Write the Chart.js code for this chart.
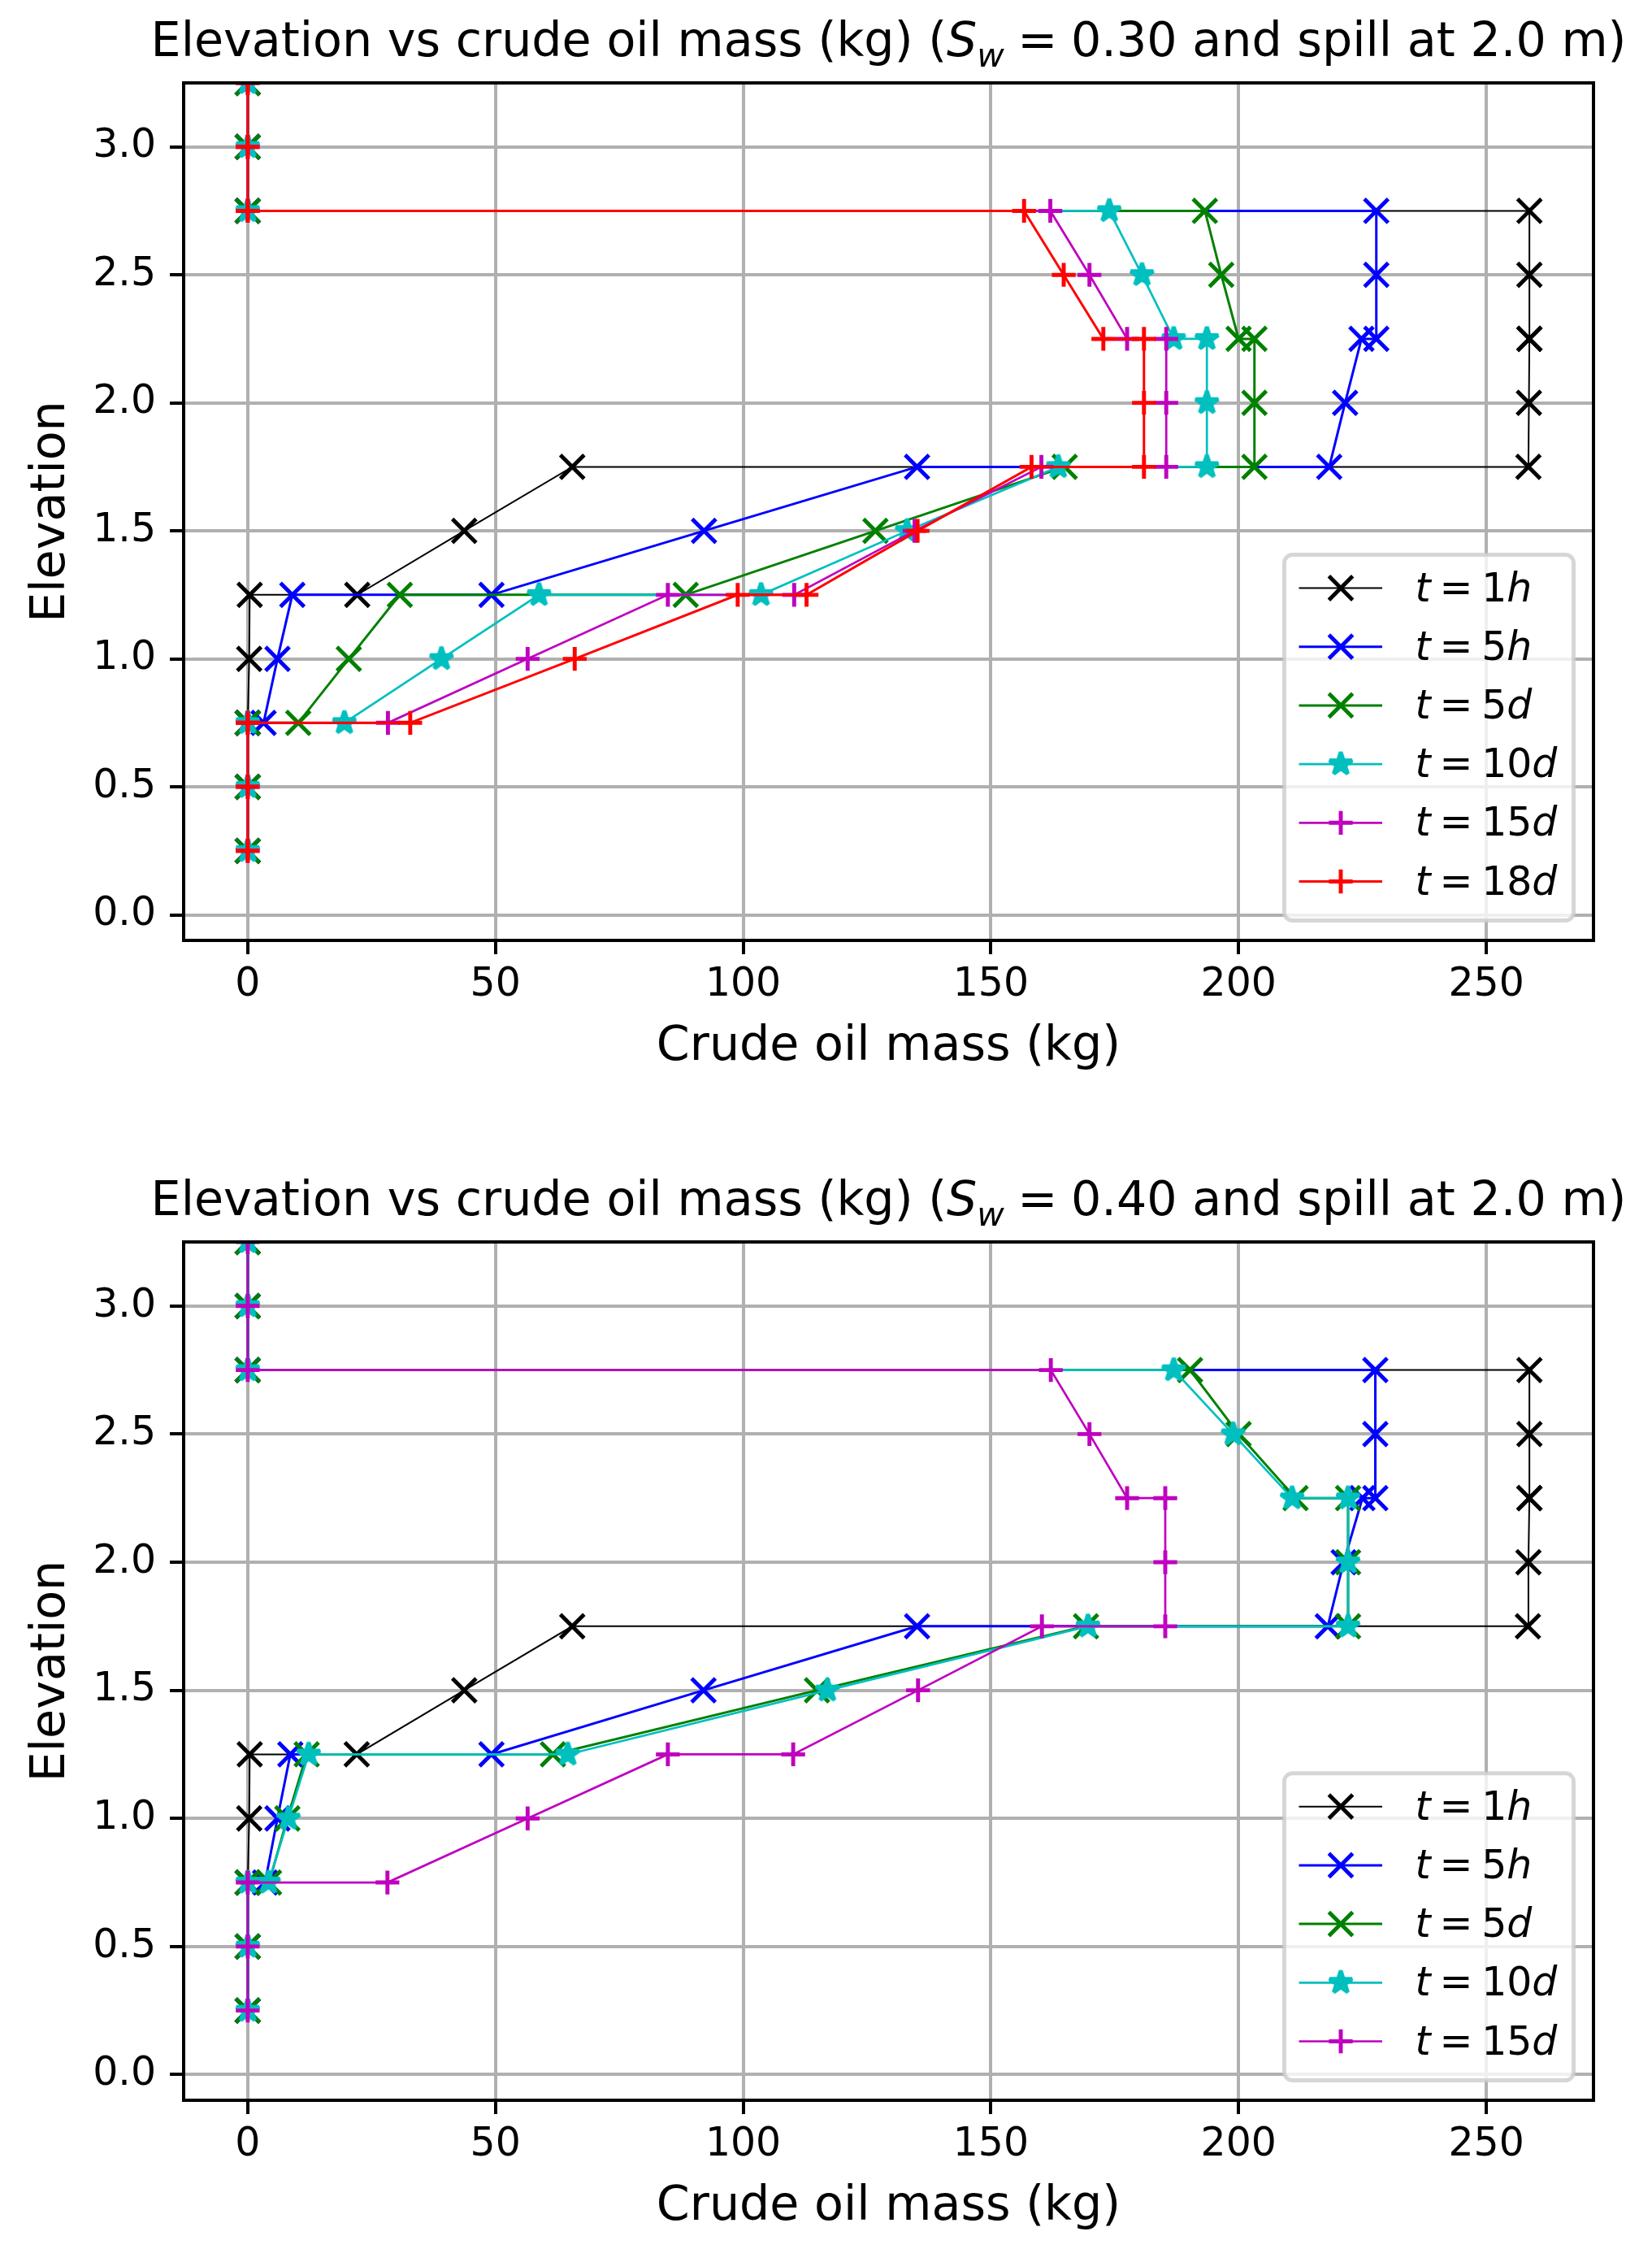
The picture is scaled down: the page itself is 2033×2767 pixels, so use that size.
<!DOCTYPE html>
<html>
<head>
<meta charset="utf-8">
<script src="https://cdn.jsdelivr.net/npm/chart.js@4.4.1/dist/chart.umd.min.js"></script>
<style>
  html, body { margin: 0; padding: 0; background: #fff; }
  .panel { position: absolute; left: 0; }
</style>
</head>
<body>
<div class="panel" style="top:0"><canvas id="sw30" width="2033" height="1383"></canvas></div>
<div class="panel" style="top:1383px"><canvas id="sw40" width="2033" height="1384"></canvas></div>
<script>
// elevation of each sample (m), layer boundaries appear twice
var elevation = [0.25, 0.5, 0.75, 0.75, 1.0, 1.25, 1.25, 1.5, 1.75, 1.75, 2.0, 2.25, 2.25, 2.5, 2.75, 2.75, 3.0, 3.25];

// crude oil mass (kg), Sw = 0.30
var sw30_1h  = [0, 0, 0, 0, 0.3, 0.4, 22.1, 43.7, 65.5, 258.5, 258.6, 258.7, 258.7, 258.7, 258.7, 0, 0, 0];
var sw30_5h  = [0, 0, 0, 3.2, 6.0, 9.0, 49.2, 92.1, 135.1, 218.3, 221.5, 224.8, 227.8, 227.8, 227.8, 0, 0, 0];
var sw30_5d  = [0, 0, 0, 10.2, 20.4, 30.7, 88.4, 126.7, 164.9, 203.2, 203.2, 203.2, 200.0, 196.5, 193.2, 0, 0, 0];
var sw30_10d = [0, 0, 0, 19.5, 39.1, 58.8, 103.6, 133.1, 163.6, 193.6, 193.6, 193.6, 186.9, 180.5, 173.9, 0, 0, 0];
var sw30_15d = [0, 0, 0, 28.3, 56.5, 84.8, 110.3, 134.6, 160.2, 185.4, 185.4, 185.4, 177.5, 169.9, 162.0, 0, 0, 0];
var sw30_18d = [0, 0, 0, 32.8, 66.0, 98.9, 112.8, 135.2, 158.2, 180.9, 180.9, 180.9, 172.7, 164.7, 156.7, 0, 0, 0];

// crude oil mass (kg), Sw = 0.40
var sw40_1h  = [0, 0, 0, 0, 0.3, 0.4, 22.0, 43.7, 65.5, 258.4, 258.5, 258.7, 258.7, 258.7, 258.7, 0, 0, 0];
var sw40_5h  = [0, 0, 0, 3.5, 6.0, 8.6, 49.2, 92.0, 135.1, 218.0, 221.2, 225.0, 227.6, 227.6, 227.6, 0, 0, 0];
var sw40_5d  = [0, 0, 0, 4.3, 8.0, 11.9, 61.6, 114.9, 169.2, 222.1, 222.1, 222.1, 211.5, 200.0, 190.2, 0, 0, 0];
var sw40_10d = [0, 0, 0, 4.2, 8.2, 12.3, 64.6, 117.0, 169.6, 222.1, 222.1, 222.1, 210.8, 198.9, 186.9, 0, 0, 0];
var sw40_15d = [0, 0, 0, 28.2, 56.5, 84.8, 110.1, 135.3, 160.3, 185.2, 185.2, 185.2, 177.5, 169.9, 162.1, 0, 0, 0];

var labels30 = ['1h', '5h', '5d', '10d', '15d', '18d'];
var labels40 = ['1h', '5h', '5d', '10d', '15d'];
var massTicks = 50;
var elevTicks = 0.5;
var elevMin = -0.1, elevMax = 3.25;

var styles = {
    '1h':  { color: '#000000', marker: 'x', width: 2 },
    '5h':  { color: '#0000ff', marker: 'x', width: 3 },
    '5d':  { color: '#008000', marker: 'x', width: 3 },
    '10d': { color: '#00bfbf', marker: '*', width: 2.7 },
    '15d': { color: '#bf00bf', marker: '+', width: 2.7 },
    '18d': { color: '#ff0000', marker: '+', width: 3 }
};
var FONT = '"DejaVu Sans"';
var MS = 29.3;   // marker size, px
var MEW = 4.9;   // marker edge width

// filled 5 point star like matplotlib '*'
function starPath(g, cx, cy) {
    var r = MS / 2, ri = r * 0.381966;
    g.beginPath();
    for (var k = 0; k < 10; k++) {
        var rr = k % 2 ? ri : r;
        var a = -Math.PI / 2 + k * Math.PI / 5;
        g.lineTo(cx + rr * Math.cos(a), cy + rr * Math.sin(a));
    }
    g.closePath();
}
var starCache = {};
function starImage(color) {
    if (starCache[color]) return starCache[color];
    var c = document.createElement('canvas');
    c.width = 40; c.height = 40;
    var g = c.getContext('2d');
    starPath(g, 20, 20);
    g.fillStyle = color; g.fill();
    g.lineWidth = MEW; g.lineJoin = 'bevel'; g.strokeStyle = color; g.stroke();
    starCache[color] = c;
    return c;
}

function drawMarker(ctx, st, x, y) {
    ctx.save();
    ctx.strokeStyle = st.color; ctx.fillStyle = st.color; ctx.lineWidth = MEW;
    var h = MS / 2;
    if (st.marker === '*') {
        ctx.drawImage(starImage(st.color), x - 20, y - 20);
    } else {
        ctx.beginPath();
        if (st.marker === 'x') {
            ctx.moveTo(x - h, y - h); ctx.lineTo(x + h, y + h);
            ctx.moveTo(x - h, y + h); ctx.lineTo(x + h, y - h);
        } else {
            ctx.moveTo(x - h, y); ctx.lineTo(x + h, y);
            ctx.moveTo(x, y - h); ctx.lineTo(x, y + h);
        }
        ctx.stroke();
    }
    ctx.restore();
}

function dataset(label, masses, i, n) {
    var st = styles[label];
    var ds = {
        label: label,
        data: masses.map(function (m, k) { return { x: m, y: elevation[k] }; }),
        showLine: true,
        borderColor: st.color,
        backgroundColor: st.color,
        borderWidth: st.width,
        pointBorderColor: st.color,
        pointBackgroundColor: st.color,
        pointBorderWidth: MEW,
        pointHoverBorderWidth: MEW,
        clip: 0,
        order: n - i
    };
    if (st.marker === 'x') {
        ds.pointStyle = 'crossRot'; ds.pointRadius = MS / Math.SQRT2;
    } else if (st.marker === '+') {
        ds.pointStyle = 'cross'; ds.pointRadius = MS / 2;
    } else {
        ds.pointStyle = starImage(st.color); ds.pointRadius = MS / 2;
    }
    ds.pointHoverRadius = ds.pointRadius;
    return ds;
}

// mixed roman / italic text runs (mathtext look)
function runFont(r, size) {
    var s = r.sub ? size * 0.7 : size;
    return (r.it ? 'italic ' : '') + s + 'px ' + FONT;
}
function measureRuns(ctx, runs, size) {
    var w = 0;
    runs.forEach(function (r) {
        if (r.gap) { r.w = r.gap * size; }
        else { ctx.font = runFont(r, size); r.w = ctx.measureText(r.t).width; }
        w += r.w;
    });
    return w;
}
function drawRuns(ctx, runs, x, y, size) {
    ctx.textAlign = 'left';
    ctx.textBaseline = 'alphabetic';
    ctx.fillStyle = '#000';
    runs.forEach(function (r) {
        if (!r.gap) {
            ctx.font = runFont(r, size);
            ctx.fillText(r.t, x, y + (r.sub ? size * 0.22 : 0));
        }
        x += r.w;
    });
}
function legendRuns(label) {
    var num = label.replace(/[a-z]/g, ''), unit = label.replace(/[0-9]/g, '');
    return [{ t: 't', it: 1 }, { gap: 0.22 }, { t: '=' }, { gap: 0.22 }, { t: num }, { t: unit, it: 1 }];
}

function decor(sw, labels) {
    return {
        id: 'decor',
        afterDatasetsDraw: function (chart) {
            var ca = chart.chartArea, ctx = chart.ctx;
            ctx.save();
            ctx.strokeStyle = '#000';
            ctx.lineWidth = 4;
            ctx.strokeRect(ca.left, ca.top, ca.right - ca.left, ca.bottom - ca.top);
            ctx.restore();
        },
        afterDraw: function (chart) {
            var ca = chart.chartArea, ctx = chart.ctx;
            ctx.save();
            // title
            var tr = [
                { t: 'Elevation vs crude oil mass (kg) (' }, { t: 'S', it: 1 }, { t: 'w', it: 1, sub: 1 },
                { gap: 0.28 }, { t: '=' }, { gap: 0.28 }, { t: sw }, { t: ' and spill at 2.0 m)' }
            ];
            var tw = measureRuns(ctx, tr, 58.7);
            drawRuns(ctx, tr, (ca.left + ca.right) / 2 - tw / 2, ca.top - 33, 58.7);

            // legend, lower right
            var n = labels.length;
            var w = 356, h = 89 + 72.2 * (n - 1);
            var right = ca.right - 24.5, bottom = ca.bottom - 24.5;
            var left = right - w, top = bottom - h;
            ctx.beginPath();
            ctx.roundRect(left, top, w, h, 10);
            ctx.fillStyle = 'rgba(255,255,255,0.8)';
            ctx.fill();
            ctx.lineWidth = 4.9;
            ctx.strokeStyle = 'rgba(204,204,204,0.8)';
            ctx.stroke();
            labels.forEach(function (lab, k) {
                var cy = top + 41 + 72.2 * k;
                var st = styles[lab];
                ctx.strokeStyle = st.color;
                ctx.lineWidth = st.width;
                ctx.beginPath();
                ctx.moveTo(left + 18, cy); ctx.lineTo(left + 120.5, cy);
                ctx.stroke();
                drawMarker(ctx, st, left + 69.5, cy);
                var rr = legendRuns(lab);
                measureRuns(ctx, rr, 48.9);
                drawRuns(ctx, rr, left + 161, cy + 16, 48.9);
            });
            ctx.restore();
        }
    };
}

function makeChart(id, sw, labels, masses, lay) {
    var all = [].concat.apply([], masses);
    var lo = Math.min.apply(null, all), hi = Math.max.apply(null, all);
    var pad = 0.05 * (hi - lo);
    var n = labels.length;
    return new Chart(document.getElementById(id), {
        type: 'scatter',
        data: { datasets: labels.map(function (lab, i) { return dataset(lab, masses[i], i, n); }) },
        options: {
            responsive: false,
            animation: false,
            devicePixelRatio: 1,
            events: [],
            layout: { padding: { top: lay.top, right: 72, bottom: 0, left: 0 } },
            plugins: { legend: { display: false }, tooltip: { enabled: false }, title: { display: false } },
            scales: {
                x: {
                    type: 'linear',
                    min: lo - pad,
                    max: hi + pad,
                    afterFit: function (s) { s.height = lay.xh; },
                    border: { display: false },
                    grid: { color: '#b0b0b0', lineWidth: 4, tickColor: '#000', tickWidth: 4, tickLength: 17 },
                    ticks: {
                        stepSize: massTicks, includeBounds: false, autoSkip: false, maxRotation: 0,
                        padding: 9, color: '#000', font: { family: FONT, size: 48.9 },
                        callback: function (v) { return String(v); }
                    },
                    title: {
                        display: true, text: 'Crude oil mass (kg)', color: '#000',
                        font: { family: FONT, size: 58.7 }, padding: { top: 0, bottom: lay.xtp }
                    }
                },
                y: {
                    type: 'linear',
                    min: elevMin,
                    max: elevMax,
                    afterFit: function (s) { s.width = 226; },
                    border: { display: false },
                    grid: { color: '#b0b0b0', lineWidth: 4, tickColor: '#000', tickWidth: 4, tickLength: 17 },
                    ticks: {
                        stepSize: elevTicks, includeBounds: false, padding: 17, color: '#000',
                        font: { family: FONT, size: 48.9 },
                        callback: function (v) { return v.toFixed(1); }
                    },
                    title: {
                        display: true, text: 'Elevation', color: '#000',
                        font: { family: FONT, size: 58.7 }, padding: { top: 29, bottom: 0 }
                    }
                }
            }
        },
        plugins: [decor(sw, labels)]
    });
}

makeChart('sw30', '0.30', labels30,
    [sw30_1h, sw30_5h, sw30_5d, sw30_10d, sw30_15d, sw30_18d],
    { top: 102, xh: 226, xtp: 59 });
makeChart('sw40', '0.40', labels40,
    [sw40_1h, sw40_5h, sw40_5d, sw40_10d, sw40_15d],
    { top: 145, xh: 183, xtp: 16 });
</script>
</body>
</html>
